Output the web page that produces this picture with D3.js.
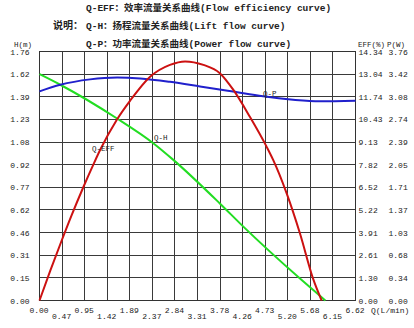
<!DOCTYPE html>
<html><head><meta charset="utf-8">
<script src="https://cdn.jsdelivr.net/npm/d3@7"></script>
<style>
html,body{margin:0;padding:0;background:#fff;}
svg{display:block;}
text{font-family:"Liberation Mono","DejaVu Sans Mono","Noto Sans CJK SC",monospace;fill:#222;}
</style></head>
<body>
<script>
// ---- data ----
const xTickLabels = ["0.00","0.47","0.95","1.42","1.89","2.37","2.84","3.31","3.78","4.26","4.73","5.20","5.68","6.15","6.62"];
const hTickLabels = ["0.00","0.15","0.31","0.46","0.62","0.77","0.92","1.08","1.23","1.39","1.62","1.76"];
const effTickLabels = ["0.00","1.30","2.61","3.91","5.22","6.52","7.82","9.13","10.43","11.74","13.04","14.34"];
const pTickLabels = ["0.00","0.34","0.68","1.03","1.37","1.71","2.05","2.39","2.74","3.08","3.42","3.76"];
const qMax = 6.62, hMax = 1.76, effMax = 14.34, pMax = 3.76;

// Q-H (lift) curve
const qhQ = [0, 0.435, 1.617, 2.383, 2.804, 3.778, 4.270, 5.457, 5.99];
const qhH = [1.60, 1.525, 1.288, 1.112, 0.994, 0.686, 0.522, 0.155, 0.0];
// Q-P (power) curve
const qpQ = [0, 0.435, 1.059, 1.627, 2.109, 2.733, 3.362, 4.053, 4.682, 5.311, 5.873, 6.62];
const qpP = [3.158, 3.257, 3.339, 3.367, 3.353, 3.302, 3.233, 3.155, 3.083, 3.032, 3.008, 3.018];
// Q-EFF (efficiency) curve
const qeQ = [0, 0.222, 0.435, 0.676, 0.922, 1.130, 1.272, 1.617, 1.896, 2.317, 2.733, 3.050, 3.433, 3.778, 4.058, 4.407, 4.757, 4.895, 5.178, 5.457, 5.731, 5.911];
const qeE = [0, 1.69, 3.24, 4.93, 6.55, 7.84, 8.68, 10.40, 11.50, 12.89, 13.57, 13.77, 13.57, 13.09, 12.14, 10.58, 8.86, 8.10, 6.17, 3.86, 1.26, 0];

const titleLines = [
  {pre:"", text:"Q-EFF：效率流量关系曲线(Flow efficiency curve)"},
  {pre:"说明：", text:"Q-H：扬程流量关系曲线(Lift flow curve)"},
  {pre:"", text:"Q-P：功率流量关系曲线(Power flow curve)"}
];

// ---- layout ----
const W = 414, H = 328;
const L = 39.5, R = 355.5, T = 51.5, B = 300.5;

const svg = d3.select("body").append("svg").attr("width", W).attr("height", H);

const x = d3.scaleLinear([0, qMax], [L, R]);
const yH = d3.scaleLinear([0, hMax], [B, T]);
const yE = d3.scaleLinear([0, effMax], [B, T]);
const yP = d3.scaleLinear([0, pMax], [B, T]);

const xTicks = d3.range(xTickLabels.length).map(i => i * qMax / (xTickLabels.length - 1));
const hTicks = d3.range(hTickLabels.length).map(i => i * hMax / (hTickLabels.length - 1));
const eTicks = d3.range(effTickLabels.length).map(i => i * effMax / (effTickLabels.length - 1));
const pTicks = d3.range(pTickLabels.length).map(i => i * pMax / (pTickLabels.length - 1));

// grid
const grid = svg.append("g").attr("shape-rendering", "crispEdges");
grid.selectAll("line.v").data(xTicks).join("line")
  .attr("x1", d => x(d)).attr("x2", d => x(d)).attr("y1", T).attr("y2", B)
  .attr("stroke", "#3a3a3a").attr("stroke-width", 1);
grid.selectAll("line.h").data(hTicks).join("line")
  .attr("x1", L).attr("x2", R).attr("y1", d => yH(d)).attr("y2", d => yH(d))
  .attr("stroke", "#3a3a3a").attr("stroke-width", 1);

// left axis labels
const axL = svg.append("g").attr("transform", `translate(${L},0)`)
  .call(d3.axisLeft(yH).tickValues(hTicks).tickFormat((d, i) => hTickLabels[i]).tickSize(0).tickPadding(10));
axL.select(".domain").remove();
axL.selectAll("text").attr("font-size", 8).attr("font-family", '"Liberation Mono",monospace').attr("fill", "#222");

// right axis labels (EFF)
const axE = svg.append("g").attr("transform", `translate(${R},0)`)
  .call(d3.axisRight(yE).tickValues(eTicks).tickFormat((d, i) => effTickLabels[i]).tickSize(0).tickPadding(3));
axE.select(".domain").remove();
axE.selectAll("text").attr("font-size", 8).attr("font-family", '"Liberation Mono",monospace').attr("fill", "#222");

// right axis labels (P)
const axP = svg.append("g").attr("transform", `translate(${R + 33},0)`)
  .call(d3.axisRight(yP).tickValues(pTicks).tickFormat((d, i) => pTickLabels[i]).tickSize(0).tickPadding(0));
axP.select(".domain").remove();
axP.selectAll("text").attr("font-size", 8).attr("font-family", '"Liberation Mono",monospace').attr("fill", "#222");

// bottom axis labels (two staggered rows)
const axB = svg.append("g").attr("transform", `translate(0,${B})`)
  .call(d3.axisBottom(x).tickValues(xTicks).tickFormat((d, i) => xTickLabels[i]).tickSize(0).tickPadding(0));
axB.select(".domain").remove();
axB.selectAll("text").attr("font-size", 8).attr("font-family", '"Liberation Mono",monospace').attr("fill", "#222")
  .attr("dy", null)
  .attr("y", (d, i) => i % 2 === 0 ? 12.5 : 18.5)
  .attr("dx", -1);

// axis titles
const small = (t, xx, yy, anchor) => svg.append("text").text(t).attr("x", xx).attr("y", yy)
  .attr("font-size", 7.5).attr("text-anchor", anchor || "start");
small("H(m)", 14, 46.5);
small("EFF(%)", 358, 46.5);
small("P(W)", 387, 46.5);
svg.append("text").text("Q(L/min)").attr("x", 371).attr("y", B + 12.5).attr("font-size", 8);

// border
svg.append("rect").attr("x", L).attr("y", T).attr("width", R - L).attr("height", B - T)
  .attr("fill", "none").attr("stroke", "#333").attr("stroke-width", 1).attr("shape-rendering", "crispEdges");

// curves
const lineH = d3.line().x(d => x(d[0])).y(d => yH(d[1])).curve(d3.curveMonotoneX);
const lineP = d3.line().x(d => x(d[0])).y(d => yP(d[1])).curve(d3.curveMonotoneX);
const lineE = d3.line().x(d => x(d[0])).y(d => yE(d[1])).curve(d3.curveMonotoneX);

svg.append("path").attr("d", lineH(d3.zip(qhQ, qhH)))
  .attr("fill", "none").attr("stroke", "#22dd22").attr("stroke-width", 2);
svg.append("path").attr("d", lineP(d3.zip(qpQ, qpP)))
  .attr("fill", "none").attr("stroke", "#2020cc").attr("stroke-width", 2);
svg.append("path").attr("d", lineE(d3.zip(qeQ, qeE)))
  .attr("fill", "none").attr("stroke", "#cc1111").attr("stroke-width", 2);

// curve labels
const clab = (t, q, v, sc) => svg.append("text").text(t)
  .attr("x", x(q)).attr("y", sc(v)).attr("font-size", 7.5);
clab("Q-EFF", 1.10, 8.61, yE);
clab("Q-H", 2.40, 1.134, yH);
clab("Q-P", 4.68, 3.088, yP);

// titles
titleLines.forEach((ln, i) => {
  const yy = 11 + i * 18;
  if (ln.pre) {
    svg.append("text").text(ln.pre).attr("x", 53).attr("y", yy)
      .attr("font-size", 10).attr("font-weight", "bold");
  }
  svg.append("text").text(ln.text).attr("x", 86).attr("y", yy)
    .attr("font-size", 9.5).attr("font-weight", "bold");
});
</script>
</body></html>
